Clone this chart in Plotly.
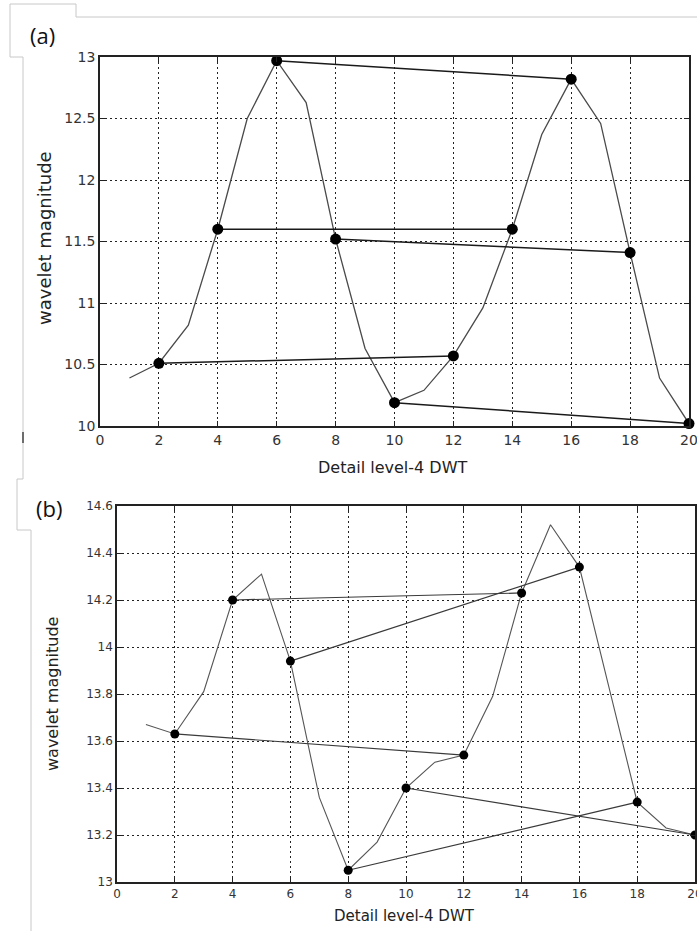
import plotly.graph_objects as go

# ---------------- data ----------------
x_curve = list(range(1, 21))
a_curve = [10.39, 10.51, 10.82, 11.60, 12.50, 12.97, 12.63, 11.52, 10.63, 10.19,
           10.29, 10.57, 10.96, 11.60, 12.37, 12.82, 12.46, 11.41, 10.39, 10.02]
b_curve = [13.67, 13.63, 13.81, 14.20, 14.31, 13.94, 13.36, 13.05, 13.17, 13.40,
           13.51, 13.54, 13.79, 14.23, 14.52, 14.34, 13.84, 13.34, 13.23, 13.20]
x_marks = [2, 4, 6, 8, 10, 12, 14, 16, 18, 20]
a_marks = [10.51, 11.60, 12.97, 11.52, 10.19, 10.57, 11.60, 12.82, 11.41, 10.02]
b_marks = [13.63, 14.20, 13.94, 13.05, 13.40, 13.54, 14.23, 14.34, 13.34, 13.20]
pair_offset = 10  # each marker is joined to the one 10 units to the right

x_title = "Detail level-4 DWT"
y_title = "wavelet magnitude"
panel_labels = ["(a)", "(b)"]

W, H = 697, 931


def px_x(p):
    return p / W


def px_y(p):
    return 1 - p / H


def pairs(xs, ys):
    lx, ly = [], []
    for i, xv in enumerate(xs):
        if xv + pair_offset in xs:
            j = xs.index(xv + pair_offset)
            lx += [xv, xs[j], None]
            ly += [ys[i], ys[j], None]
    return lx, ly


fig = go.Figure()

# ---- panel (a)
fig.add_trace(go.Scatter(x=x_curve, y=a_curve, mode="lines",
                         line=dict(color="#4a4a4a", width=1.3),
                         xaxis="x", yaxis="y", showlegend=False))
lx, ly = pairs(x_marks, a_marks)
fig.add_trace(go.Scatter(x=lx, y=ly, mode="lines",
                         line=dict(color="#1a1a1a", width=1.5),
                         xaxis="x", yaxis="y", showlegend=False))
fig.add_trace(go.Scatter(x=x_marks, y=a_marks, mode="markers",
                         marker=dict(color="black", size=11),
                         cliponaxis=False,
                         xaxis="x", yaxis="y", showlegend=False))

# ---- panel (b)
fig.add_trace(go.Scatter(x=x_curve, y=b_curve, mode="lines",
                         line=dict(color="#555555", width=1.1),
                         xaxis="x2", yaxis="y2", showlegend=False))
lx, ly = pairs(x_marks, b_marks)
fig.add_trace(go.Scatter(x=lx, y=ly, mode="lines",
                         line=dict(color="#3a3a3a", width=1.2),
                         xaxis="x2", yaxis="y2", showlegend=False))
fig.add_trace(go.Scatter(x=x_marks, y=b_marks, mode="markers",
                         marker=dict(color="black", size=9),
                         cliponaxis=False,
                         xaxis="x2", yaxis="y2", showlegend=False))

fam = "DejaVu Sans, Liberation Sans, Arial"
tick_a = dict(family=fam, size=14, color="#333333")
tick_b = dict(family=fam, size=12, color="#333333")


def axis_style(tf):
    return dict(showline=True, linecolor="#222222", linewidth=1.5, mirror="ticks",
                ticks="inside", ticklen=5, tickcolor="#222222",
                showgrid=True, gridcolor="#222222", gridwidth=1, griddash="2px,3px",
                zeroline=False, tickfont=tf, automargin=False,
                ticklabeloverflow="allow")


fig.update_layout(
    width=W, height=H, margin=dict(l=0, r=0, t=0, b=0, autoexpand=False),
    paper_bgcolor="white", plot_bgcolor="white",
    xaxis=dict(domain=[px_x(100), px_x(689)], anchor="y", range=[0, 20], dtick=2,
               **axis_style(tick_a)),
    yaxis=dict(domain=[px_y(426), px_y(57)], anchor="x", range=[10, 13], dtick=0.5,
               **axis_style(tick_a)),
    xaxis2=dict(domain=[px_x(117), px_x(695)], anchor="y2", range=[0, 20], dtick=2,
                **axis_style(tick_b)),
    yaxis2=dict(domain=[px_y(882), px_y(506)], anchor="x2", range=[13, 14.6], dtick=0.2,
                **axis_style(tick_b)),
)


def label(text, x, y, font, angle=0):
    fig.add_annotation(text=text, x=px_x(x), y=px_y(y), xref="paper", yref="paper",
                       xanchor="center", yanchor="middle",
                       showarrow=False, textangle=angle, font=font)


def tfont(size):
    return dict(family=fam, size=size, color="#222222")


# axis titles
label(x_title, 392, 467, tfont(16))
label(y_title, 44, 238, tfont(18), -90)
label(x_title, 404, 916, tfont(15))
label(y_title, 52, 694, tfont(16), -90)

# panel labels
labfont = dict(family="Open Sans, Noto Sans", size=22, color="#111111")
for lab, (lxp, lyp) in zip(panel_labels, [(42, 35), (49, 508)]):
    label(lab, lxp, lyp, labfont)

# light frame lines from the original figure's layout boxes
frame = [
    (10, 4, 76, 4), (76, 4, 76, 17), (76, 17, 697, 17), (10, 4, 10, 57),
    (10, 57, 23, 57), (23, 57, 23, 479),
    (17, 479, 23, 479), (17, 479, 17, 530), (17, 530, 31, 530), (31, 530, 31, 931),
]
for x0, y0, x1, y1 in frame:
    fig.add_shape(type="line", xref="paper", yref="paper",
                  x0=px_x(x0), y0=px_y(y0), x1=px_x(x1), y1=px_y(y1),
                  line=dict(color="#c8c8c8", width=1))
fig.add_shape(type="line", xref="paper", yref="paper",
              x0=px_x(23), y0=px_y(432), x1=px_x(23), y1=px_y(443),
              line=dict(color="#444444", width=1.5))

fig.write_html("out.html")
